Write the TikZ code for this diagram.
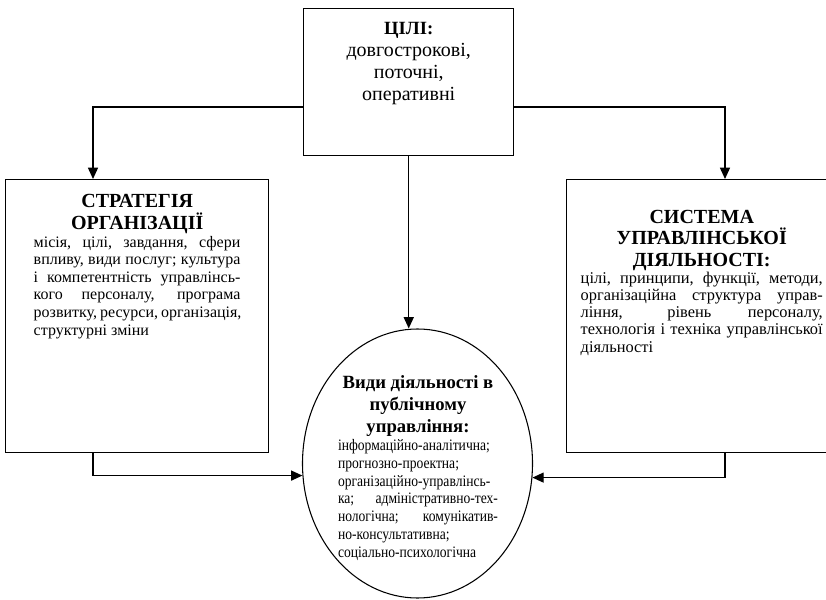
\documentclass[tikz,border=0pt]{standalone}
\usepackage{fontspec}
\setmainfont{Liberation Serif}
\newfontfamily\condensed[FakeStretch=0.85]{Liberation Serif}
\usetikzlibrary{arrows.meta,shapes.geometric}
\newcommand{\jline}[1]{\makebox[\linewidth][s]{#1}\par}
\begin{document}
\begin{tikzpicture}[x=0.75pt,y=-0.75pt,
  box/.style={draw,line width=1.1pt,inner sep=0pt,anchor=north west},
  conn/.style={line width=1.1pt},
  arr/.style={conn,-{Triangle[length=8.5pt,width=7.5pt]}},
  oval/.style={draw,ellipse,line width=0.8pt,inner sep=0pt,minimum width=172.5pt,minimum height=201.75pt},
  txt/.style={inner sep=0pt}]
\useasboundingbox (0,0) rectangle (826,600);

\node[box] (top) at (303,8) {\parbox[c][110.25pt][t]{157.5pt}{\centering\fontsize{15}{16.4}\selectfont
  \rule{0pt}{19.5pt}{\fontsize{14}{16.4}\selectfont\textbf{ЦІЛІ:}}\\довгострокові,\\поточні,\\оперативні\par}};

\node[box] (left) at (5,179) {\parbox[c][204.75pt][t]{197.25pt}{%
  {\centering\bfseries\fontsize{15}{16.3}\selectfont\rule{0pt}{21pt}СТРАТЕГІЯ\\ОРГАНІЗАЦІЇ\par}%
  \fontsize{12}{13.2}\selectfont\noindent\hspace*{21pt}\parbox[t]{155pt}{\fontsize{12}{13.2}\selectfont
  \jline{місія, цілі, завдання, сфери}
  \jline{впливу, види послуг; культура}
  \jline{і компетентність управлінсь-}
  \jline{кого персоналу, програма}
  \jline{розвитку, ресурси, організація,}
  структурні зміни}\par}};

\node[box] (right) at (566,179) {\parbox[c][204.75pt][t]{202.5pt}{%
  {\centering\bfseries\fontsize{15}{16.2}\selectfont\rule{0pt}{32.5pt}СИСТЕМА\\УПРАВЛІНСЬКОЇ\\ДІЯЛЬНОСТІ:\par}%
  \fontsize{12.3}{12.75}\selectfont\noindent\hspace*{10.5pt}\parbox[t]{181.5pt}{\fontsize{12.3}{12.9}\selectfont
  \jline{цілі, принципи, функції, методи,}
  \jline{організаційна структура управ-}
  \jline{ління, рівень персоналу,}
  \jline{технологія і техніка управлінської}
  діяльності}\par}};

\node[oval] (ell) at (417.5,463.5) {};
\node[txt] (elltext) at (418,468) {\parbox{120pt}{%
  {\centering\bfseries\fontsize{14}{16.5}\selectfont Види діяльності в\\публічному\\управління:\par}%
  \condensed\fontsize{12}{13.4}\selectfont
  \mbox{інформаційно-аналітична;}\par
  прогнозно-проектна;\par
  \jline{організаційно-управлінсь-}
  \jline{ка; адміністративно-тех-}
  \jline{нологічна; комунікатив-}
  но-консультативна;\par
  \mbox{соціально-психологічна}}};

\draw[arr] ([yshift=-18.4pt]top.west) -| ([xshift=66pt]left.north west);
\draw[arr] ([yshift=-18.4pt]top.east) -| ([xshift=119.25pt]right.north west);
\draw[arr] (top.south) -- (top.south |- ell.north);
\draw[arr] ([xshift=66pt]left.south west) |- (ell.186.7);
\draw[arr] ([xshift=119.25pt]right.south west) |- (ell.353.3);
\end{tikzpicture}
\end{document}
